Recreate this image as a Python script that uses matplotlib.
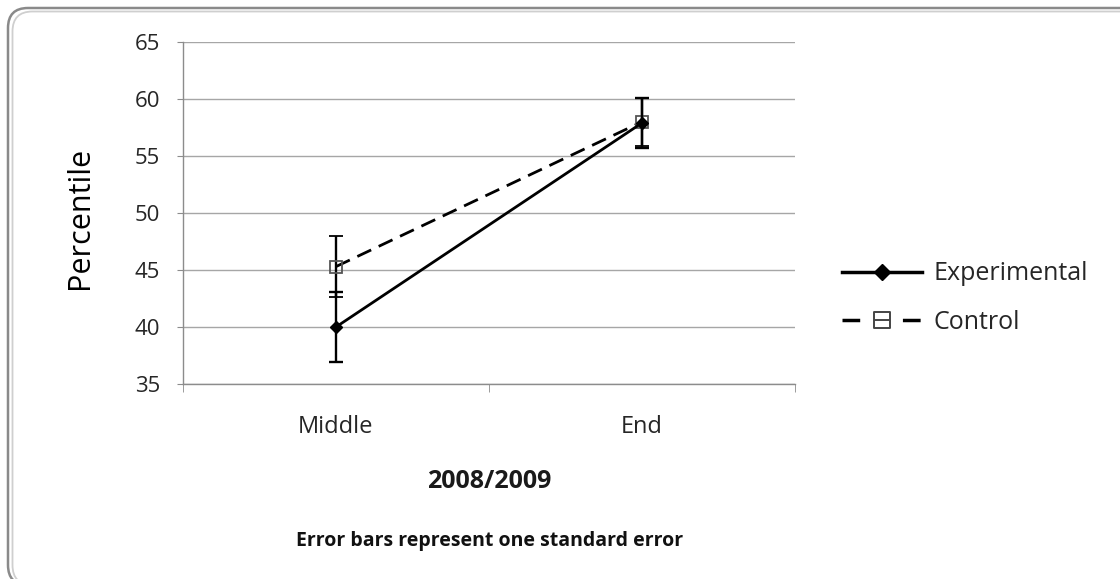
import matplotlib.pyplot as plt
from matplotlib.patches import FancyBboxPatch
from matplotlib.lines import Line2D
from matplotlib.path import Path

# data
periods = ['Middle', 'End']
exp_vals = [40.0, 57.9]
exp_err = [3.1, 2.2]
ctrl_vals = [45.3, 58.0]
ctrl_err = [2.7, 2.1]

plt.rcParams['font.family'] = ['Open Sans', 'DejaVu Sans']

fig = plt.figure(figsize=(11.2, 5.79), dpi=100)
ax = fig.add_axes([0.1634, 0.3368, 0.5464, 0.5907])

# rounded double frame around the chart, in inches (runs off right and bottom)
for x0, y1, col, lw in [(0.08, 5.71, '#8a8a8a', 1.8), (0.125, 5.675, '#cfcfcf', 1.3)]:
    frame = FancyBboxPatch((x0, -0.06), 11.42 - x0, y1 + 0.06,
                           boxstyle='round,pad=0,rounding_size=0.2',
                           transform=fig.dpi_scale_trans, fill=False,
                           edgecolor=col, linewidth=lw, zorder=0)
    fig.patches.append(frame)

dash = (0, (5.5, 3))
x = list(range(len(periods)))
ax.errorbar(x, ctrl_vals, yerr=ctrl_err, color='black', lw=2.0, ls=dash,
            marker='s', ms=9, mfc='none', mec='#555555', mew=1.3, capsize=4.7,
            capthick=1.7, elinewidth=1.7, ecolor='black', zorder=3)
ax.errorbar(x, exp_vals, yerr=exp_err, color='black', lw=2.0, marker='D',
            ms=6.5, mfc='black', mec='black', capsize=4.7, capthick=1.7,
            elinewidth=1.7, ecolor='black', zorder=4)

ax.set_xlim(-0.5, 1.5)
ax.set_ylim(35, 65)
ax.set_yticks(range(35, 66, 5))
ax.set_xticks(x)
ax.set_xticklabels(periods)
ax.set_xticks([-0.5, 0.5, 1.5], minor=True)
ax.tick_params(axis='x', which='major', length=0, pad=22, labelsize=17, labelcolor='#262626')
ax.tick_params(axis='x', which='minor', length=6, color='#8c8c8c', direction='out')
ax.tick_params(axis='y', length=4.5, color='#8c8c8c', direction='out', pad=12,
               labelsize=16, labelcolor='#262626')
ax.grid(axis='y', color='#a6a6a6', lw=1.0)
ax.set_axisbelow(True)
for s in ['top', 'right']:
    ax.spines[s].set_visible(False)
for s in ['left', 'bottom']:
    ax.spines[s].set_color('#8c8c8c')
    ax.spines[s].set_linewidth(1.0)

fig.text(80 / 1120, 1 - 218 / 579, 'Percentile', rotation=90, ha='center',
         va='center', fontsize=22, color='black')
ax.set_xlabel('2008/2009', fontsize=18, fontweight='bold', color='#1a1a1a', va='top')
ax.xaxis.set_label_coords(0.5, -0.25)

# square with the line running through it, like the legend of the original
sq_line = Path([(-1, -1), (1, -1), (1, 1), (-1, 1), (-1, -1), (-1, 0), (1, 0)],
               [Path.MOVETO, Path.LINETO, Path.LINETO, Path.LINETO, Path.CLOSEPOLY,
                Path.MOVETO, Path.LINETO])
handles = [
    Line2D([], [], color='black', lw=2.5, marker='D', ms=8, mfc='black', mec='black'),
    Line2D([], [], color='black', lw=2.5, ls=(0, (5.1, 12.3)), marker=sq_line, ms=11,
           mfc='none', mec='#444444', mew=1.4),
]
leg = ax.legend(handles, ['Experimental', 'Control'], loc='center left',
                bbox_to_anchor=(1.077, 0.251), borderaxespad=0, borderpad=0,
                frameon=False, fontsize=18, handlelength=3.2, labelspacing=0.95,
                handletextpad=0.45)
for t in leg.get_texts():
    t.set_color('#262626')

fig.text(490 / 1120, 1 - 541 / 579, 'Error bars represent one standard error',
         ha='center', va='center', fontsize=14, fontweight='bold', color='#111111')

fig.savefig('out.png', dpi=100)
